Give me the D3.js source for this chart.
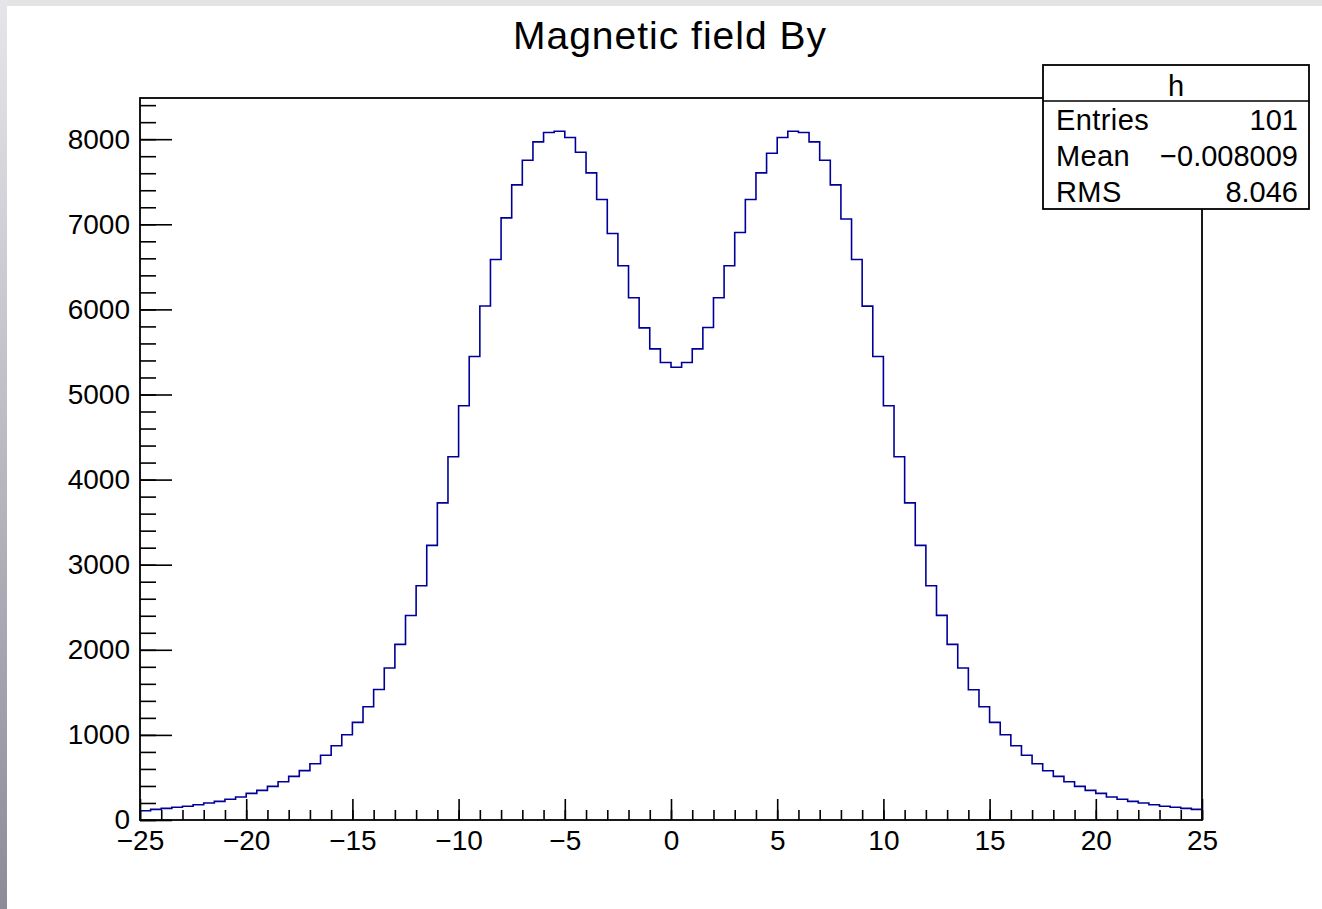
<!DOCTYPE html>
<html>
<head>
<meta charset="utf-8">
<script src="https://cdn.jsdelivr.net/npm/d3@7"></script>
<style>
  body { margin: 0; background: #ffffff; }
  text { font-family: "Liberation Sans", Arial, Helvetica, sans-serif; fill: #000; }
</style>
</head>
<body>
<div id="hist_viz"></div>
<script>
// histogram bins: 100 bins of width 0.5 from -25 to 25
var xMin = -25, xMax = 25, binWidth = 0.5;
var binContents = [
    108, 125, 137, 149, 162, 180, 200, 219, 243, 270,
    313, 348, 395, 450, 513, 580, 661, 760, 873, 1002,
    1147, 1331, 1533, 1786, 2064, 2403, 2752, 3227, 3727, 4268,
    4867, 5447, 6040, 6586, 7075, 7463, 7753, 7968, 8078, 8094,
    8020, 7847, 7604, 7291, 6892, 6512, 6136, 5783, 5536, 5376,
    5321, 5376, 5536, 5787, 6136, 6512, 6904, 7291, 7604, 7835,
    8020, 8094, 8078, 7968, 7753, 7463, 7063, 6586, 6038, 5447,
    4867, 4268, 3727, 3227, 2752, 2405, 2064, 1786, 1531, 1331,
    1147, 1002, 873, 760, 661, 579, 513, 450, 395, 348,
    313, 270, 243, 219, 200, 180, 161, 149, 137, 125
];

// axis ticks
var xMajorTicks = [-25, -20, -15, -10, -5, 0, 5, 10, 15, 20, 25];
var xTickLabels = ["\u221225", "\u221220", "\u221215", "\u221210", "\u22125", "0", "5", "10", "15", "20", "25"];
var yMajorTicks = [0, 1000, 2000, 3000, 4000, 5000, 6000, 7000, 8000];
var yTickLabels = ["0", "1000", "2000", "3000", "4000", "5000", "6000", "7000", "8000"];
var yMax = 8484;

// stats box
var statsTitle = "h";
var statsNames = ["Entries", "Mean", "RMS"];
var statsValues = ["101", "\u22120.008009", "8.046"];
var chartTitle = "Magnetic field By";

var W = 1322, H = 909;
var margin = { top: 98, right: 120, bottom: 89, left: 140 },
    width = W - margin.left - margin.right,
    height = H - margin.top - margin.bottom;

var root = d3.select("#hist_viz")
    .append("svg")
    .attr("width", W)
    .attr("height", H);

// window edge shading
var grad = root.append("defs").append("linearGradient")
    .attr("id", "edge").attr("x1", 0).attr("y1", 0).attr("x2", 0).attr("y2", 1);
grad.append("stop").attr("offset", "0%").attr("stop-color", "#e6e6ea");
grad.append("stop").attr("offset", "100%").attr("stop-color", "#8c8c99");
root.append("rect").attr("x", 0).attr("y", 0).attr("width", W).attr("height", 6).attr("fill", "#e4e4e6");
root.append("rect").attr("x", 0).attr("y", 0).attr("width", 7).attr("height", H).attr("fill", "url(#edge)");

var svg = root.append("g")
    .attr("transform", "translate(" + margin.left + "," + margin.top + ")");

var x = d3.scaleLinear().domain([xMin, xMax]).range([0, width]);
var y = d3.scaleLinear().domain([0, yMax]).range([height, 0]);

// minor ticks (no labels)
svg.append("g")
    .attr("transform", "translate(0," + height + ")")
    .call(d3.axisBottom(x).tickValues(d3.range(xMin, xMax + 1, 1)).tickSizeInner(-10).tickSizeOuter(0).tickFormat(""))
    .call(function (g) { g.select(".domain").remove(); });
svg.append("g")
    .call(d3.axisLeft(y).tickValues(d3.range(0, yMax, 200)).tickSizeInner(-16).tickSizeOuter(0).tickFormat(""))
    .call(function (g) { g.select(".domain").remove(); });

// major ticks with labels
var xAxis = svg.append("g")
    .attr("transform", "translate(0," + height + ")")
    .call(d3.axisBottom(x).tickValues(xMajorTicks).tickSizeInner(-21).tickSizeOuter(0).tickPadding(10)
        .tickFormat(function (d, i) { return xTickLabels[i]; }));
xAxis.select(".domain").remove();

var yAxis = svg.append("g")
    .call(d3.axisLeft(y).tickValues(yMajorTicks).tickSizeInner(-32).tickSizeOuter(0).tickPadding(10)
        .tickFormat(function (d, i) { return yTickLabels[i]; }));
yAxis.select(".domain").remove();

svg.selectAll(".tick line").attr("stroke", "#000").attr("stroke-width", 1.6);
svg.selectAll(".tick text")
    .style("font-family", "'Liberation Sans', Arial, sans-serif")
    .style("font-size", "28px")
    .attr("fill", "#000");

// the histogram itself
var pts = binContents.map(function (v, i) { return [xMin + i * binWidth, v]; });
pts.push([xMax, binContents[binContents.length - 1]]);

var line = d3.line()
    .x(function (d) { return x(d[0]); })
    .y(function (d) { return y(d[1]); })
    .curve(d3.curveStepAfter);

svg.append("path")
    .datum(pts)
    .attr("d", line)
    .attr("fill", "none")
    .attr("stroke", "#000099")
    .attr("stroke-width", 1.6);

// frame
svg.append("rect")
    .attr("x", 0).attr("y", 0)
    .attr("width", width).attr("height", height)
    .attr("fill", "none")
    .attr("stroke", "#000")
    .attr("stroke-width", 1.8);

// title
root.append("text")
    .attr("x", 670)
    .attr("y", 49)
    .attr("text-anchor", "middle")
    .style("font-size", "39px")
    .style("letter-spacing", "1px")
    .text(chartTitle);

// stats box
var box = root.append("g");
var bx = 1043, by = 65, bw = 266, rowH = 36;
box.append("rect")
    .attr("x", bx).attr("y", by)
    .attr("width", bw).attr("height", rowH * 4)
    .attr("fill", "#fff")
    .attr("stroke", "#000")
    .attr("stroke-width", 1.8);
box.append("line")
    .attr("x1", bx).attr("x2", bx + bw)
    .attr("y1", by + rowH).attr("y2", by + rowH)
    .attr("stroke", "#000").attr("stroke-width", 1.5);
box.append("text")
    .attr("x", bx + bw / 2).attr("y", by + 31)
    .attr("text-anchor", "middle")
    .style("font-size", "29px")
    .text(statsTitle);
statsNames.forEach(function (n, i) {
    box.append("text")
        .attr("x", bx + 13).attr("y", by + rowH * (i + 1) + 29)
        .style("font-size", "29px")
        .style("letter-spacing", "0.4px")
        .text(n);
    box.append("text")
        .attr("x", bx + bw - 11).attr("y", by + rowH * (i + 1) + 29)
        .attr("text-anchor", "end")
        .style("font-size", "29px")
        .text(statsValues[i]);
});
</script>
</body>
</html>
